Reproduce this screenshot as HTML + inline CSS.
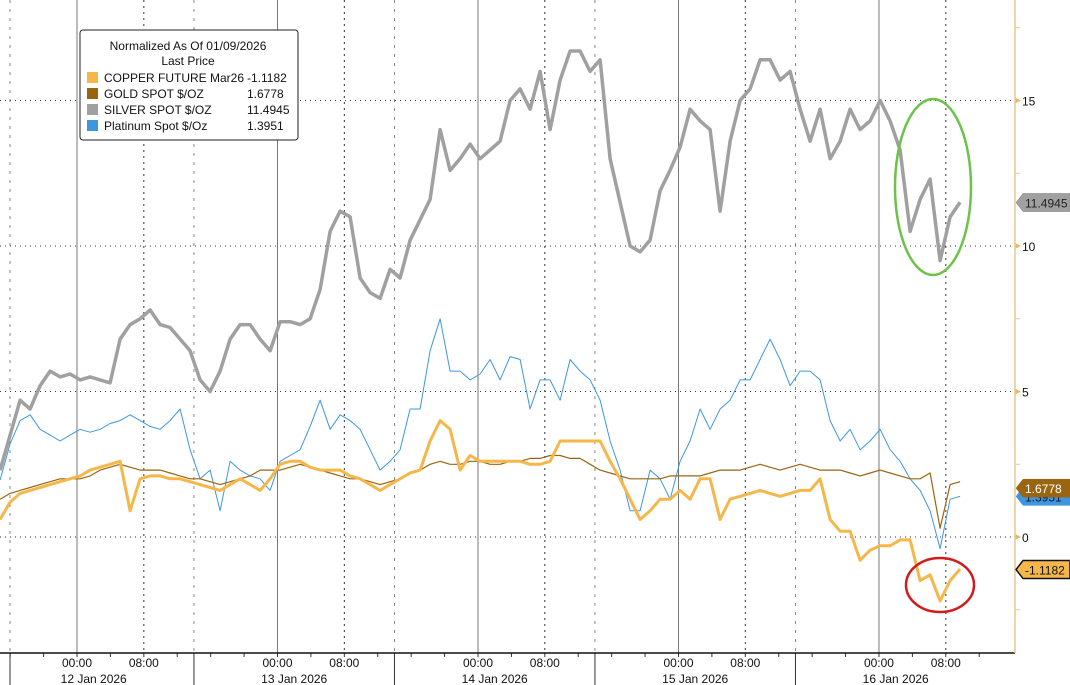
<!DOCTYPE html>
<html><head><meta charset="utf-8"><style>
body{margin:0;background:#fff;}
svg{display:block;font-family:"Liberation Sans","DejaVu Sans",sans-serif;}
</style></head><body>
<svg id="chart" width="1070" height="685" viewBox="0 0 1070 685">
<g id="grid"></g>
<g id="series"></g>
<g id="axes"></g>
<ellipse cx="933" cy="187" rx="38" ry="88" fill="none" stroke="#6cc24a" stroke-width="2.5"/>
<ellipse cx="940" cy="585" rx="34" ry="27" fill="none" stroke="#d01c1c" stroke-width="2.5"/>
<g>
<rect x="80" y="30" width="218" height="110" rx="3" fill="#fff" stroke="#222" stroke-width="1"/>
<text x="188" y="50" font-size="12" text-anchor="middle" fill="#111">Normalized As Of 01/09/2026</text>
<text x="188" y="65" font-size="12" text-anchor="middle" fill="#111">Last Price</text>
<g><rect x="87" y="72" width="11" height="11" fill="#f5b74a"/><text x="104" y="82" font-size="12" fill="#111">COPPER FUTURE Mar26</text><text x="247" y="82" font-size="12" fill="#111">-1.1182</text></g>
<g><rect x="87" y="88" width="11" height="11" fill="#9a6510"/><text x="104" y="98" font-size="12" fill="#111">GOLD SPOT $/OZ</text><text x="247" y="98" font-size="12" fill="#111">1.6778</text></g>
<g><rect x="87" y="104" width="11" height="11" fill="#a0a0a0"/><text x="104" y="114" font-size="12" fill="#111">SILVER SPOT $/OZ</text><text x="247" y="114" font-size="12" fill="#111">11.4945</text></g>
<g><rect x="87" y="120" width="11" height="11" fill="#3d97e0"/><text x="104" y="130" font-size="12" fill="#111">Platinum Spot $/Oz</text><text x="247" y="130" font-size="12" fill="#111">1.3951</text></g>
</g>
<g id="tags"></g>
</svg>
<script>
const startHour = -9.2, stepHour = 1.197;
const silver = [2.3,3.5,4.7,4.4,5.2,5.7,5.5,5.6,5.4,5.5,
5.4,5.3,6.8,7.3,7.5,7.8,7.3,7.2,6.8,6.4,
5.4,5.0,5.7,6.8,7.3,7.3,6.8,6.4,7.4,7.4,
7.3,7.5,8.5,10.5,11.2,11.0,8.9,8.4,8.2,9.2,
8.9,10.2,10.9,11.6,14.0,12.6,13.0,13.5,13.0,13.3,
13.6,15.0,15.4,14.7,16.0,14.0,15.7,16.7,16.7,16.0,
16.4,13.0,11.5,10.0,9.8,10.2,11.9,12.6,13.4,14.7,
14.3,14.0,11.2,13.6,15.0,15.4,16.4,16.4,15.7,16.0,
14.7,13.6,14.7,13.0,13.6,14.7,14.0,14.3,15.0,14.3,
13.3,10.5,11.6,12.3,9.5,11.0,11.5];
const platinum = [1.96,3.2,4.0,4.2,3.7,3.5,3.3,3.5,3.7,3.6,
3.7,3.9,4.0,4.2,4.0,3.8,3.7,4.0,4.4,3.0,
2.0,2.3,0.9,2.6,2.3,2.1,2.0,1.6,2.6,2.8,
3.0,3.8,4.7,3.7,4.2,4.0,3.7,3.0,2.3,2.6,
3.0,4.4,4.4,6.4,7.5,5.7,5.7,5.4,5.6,6.1,
5.4,6.2,6.1,4.4,5.4,5.4,4.7,6.1,5.7,5.4,
4.7,3.3,2.3,0.9,0.9,2.3,2.0,1.3,2.6,3.3,
4.4,3.7,4.4,4.7,5.4,5.4,6.1,6.8,6.1,5.2,
5.7,5.7,5.4,4.0,3.3,3.7,3.0,3.3,3.7,3.0,
2.6,2.0,1.6,0.9,-0.4,1.3,1.4];
const copper = [0.6,1.2,1.5,1.6,1.7,1.8,1.9,2.0,2.1,2.3,
2.4,2.5,2.6,0.9,2.0,2.1,2.1,2.0,2.0,1.9,
1.8,1.7,1.6,1.8,2.0,1.8,1.6,2.0,2.5,2.6,
2.6,2.4,2.3,2.3,2.3,2.1,2.0,1.8,1.6,1.8,
2.0,2.2,2.3,3.3,4.0,3.7,2.3,2.8,2.6,2.6,
2.6,2.6,2.6,2.5,2.5,2.6,3.3,3.3,3.3,3.3,
3.3,2.6,2.0,1.3,0.6,0.9,1.3,1.3,1.6,1.3,
2.0,2.0,0.6,1.3,1.4,1.5,1.6,1.5,1.4,1.5,
1.6,1.6,2.0,0.6,0.2,0.2,-0.8,-0.45,-0.3,-0.3,
-0.1,-0.1,-1.5,-1.3,-2.2,-1.5,-1.1];
const gold = [1.3,1.5,1.6,1.7,1.8,1.9,2.0,2.0,2.0,2.1,
2.3,2.4,2.5,2.4,2.3,2.3,2.3,2.2,2.1,2.0,
2.0,1.9,1.8,1.9,2.0,2.1,2.3,2.3,2.3,2.4,
2.5,2.4,2.3,2.2,2.1,2.0,2.0,1.9,1.8,1.9,
2.0,2.2,2.3,2.5,2.6,2.5,2.5,2.6,2.6,2.5,
2.5,2.6,2.6,2.7,2.7,2.8,2.8,2.7,2.7,2.5,
2.3,2.2,2.1,2.0,2.0,2.0,2.0,2.1,2.1,2.1,
2.1,2.2,2.3,2.3,2.3,2.4,2.5,2.4,2.3,2.4,
2.5,2.4,2.3,2.3,2.3,2.2,2.1,2.2,2.3,2.2,
2.1,2.0,2.0,2.2,0.3,1.8,1.9];
const yTicks = [0,5,10,15];
const dayLabels = ["12 Jan 2026","13 Jan 2026","14 Jan 2026","15 Jan 2026","16 Jan 2026"];
const hourLabels = ["00:00","08:00"];
const lastValues = [11.4945,1.3951,1.6778,-1.1182];

const NS="http://www.w3.org/2000/svg";
const X = h => 77 + h*8.354;
const Y = v => 537 - v*29.1;
function mk(tag, attrs, parent){const e=document.createElementNS(NS,tag);for(const k in attrs)e.setAttribute(k,attrs[k]);parent.appendChild(e);return e;}
const grid=document.getElementById('grid'), ser=document.getElementById('series'), axes=document.getElementById('axes'), tags=document.getElementById('tags');

yTicks.forEach(v=>{
  const l=mk('line',{x1:0,x2:1015,y1:Y(v),y2:Y(v),stroke:'#333','stroke-width':1,'stroke-dasharray':'1,4'},grid);
  
  
  const t=mk('text',{x:1022,y:Y(v)+5,'font-size':12,fill:'#111'},axes);
  t.textContent=v;
  
  
  mk('path',{d:`M1015 ${Y(v)-3} L1021 ${Y(v)} L1015 ${Y(v)+3}Z`,fill:'#e8b868'},axes);
});
for(let v=-2.5;v<=17.5;v+=2.5){ if(v%5!==0) mk('line',{x1:1015,x2:1020,y1:Y(v),y2:Y(v),stroke:'#e8c890'},axes); }
dayLabels.forEach((d,i)=>{
  const h0=i*24;
  const l0=mk('line',{x1:X(h0),x2:X(h0),y1:0,y2:653,stroke:'#555','stroke-width':0.8},grid);
  
  
  const l8=mk('line',{x1:X(h0+8),x2:X(h0+8),y1:0,y2:653,stroke:'#333','stroke-width':1,'stroke-dasharray':'2,4'},grid);
  
  
  const sep=Math.max(10,X(h0-10));
  mk('line',{x1:sep,x2:sep,y1:0,y2:653,stroke:'#555','stroke-width':0.7,'stroke-dasharray':'3,6'},grid);
  mk('line',{x1:sep,x2:sep,y1:653,y2:685,stroke:'#333'},axes);
  hourLabels.forEach((hl,j)=>{
    const t=mk('text',{x:X(h0+8*j),y:667,'font-size':12,'text-anchor':'middle',fill:'#111'},axes);
    t.textContent=hl;
    
    
  });
  const t=mk('text',{x:X(h0+2),y:683,'font-size':12,'text-anchor':'middle',fill:'#111'},axes);
  t.textContent=d;
  
  
  for(let k=-8;k<16;k+=4) mk('line',{x1:X(h0+k),x2:X(h0+k),y1:653,y2:657,stroke:'#333'},axes);
});
mk('line',{x1:0,x2:1015,y1:653,y2:653,stroke:'#111','stroke-width':1.5},axes);
mk('line',{x1:1015,x2:1015,y1:0,y2:653,stroke:'#e8c890','stroke-width':1.5},axes);

function drawSeries(vals,color,w,name){
  const d=vals.map((v,i)=>(i?'L':'M')+X(startHour+i*stepHour).toFixed(1)+' '+Y(v).toFixed(1)).join(' ');
  const p=mk('path',{d:d,fill:'none',stroke:color,'stroke-width':w,'stroke-linejoin':'round'},ser);
  
  
}
drawSeries(silver,'#a0a0a0',3.5,'silver-line');
drawSeries(platinum,'#3d97e0',1,'platinum-line');
drawSeries(gold,'#9a6510',1.2,'gold-line');
drawSeries(copper,'#f5b74a',3,'copper-line');

const tagCols=[['#a0a0a0','#222','#777'],['#3d97e0','#113','#3d97e0'],['#9a6510','#fff','#9a6510'],['#f5b74a','#111','#111']];
const tagNames=['silver-last-tag','platinum-last-tag','gold-last-tag','copper-last-tag'];
lastValues.forEach((v,i)=>{
  const y=Y(v);
  const g=mk('g',{},tags);
  
  
  mk('path',{d:`M1016 ${y} L1023 ${y-9} L1070 ${y-9} L1070 ${y+9} L1023 ${y+9}Z`,fill:tagCols[i][0],stroke:tagCols[i][2],'stroke-width':i===3?1.5:0.5},g);
  const t=mk('text',{x:1025,y:y+5,'font-size':12,fill:tagCols[i][1]},g);
  t.textContent=v.toFixed(4);
});
</script>
</body></html>
